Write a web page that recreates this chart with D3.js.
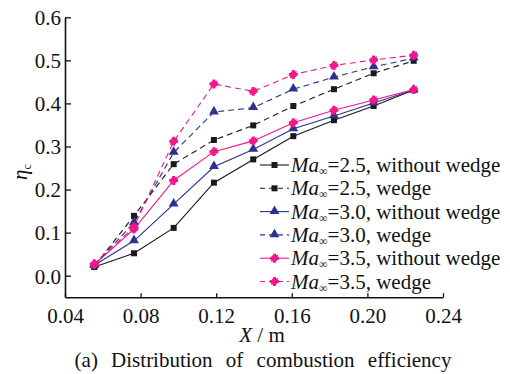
<!DOCTYPE html>
<html>
<head>
<meta charset="utf-8">
<script src="https://cdn.jsdelivr.net/npm/d3@7"></script>
<style>
html,body{margin:0;padding:0;background:#fff;}
</style>
</head>
<body>
<svg id="chart" width="510" height="374"></svg>
<script>
const xValues = [0.0555, 0.0765, 0.0975, 0.1188, 0.1396, 0.1608, 0.1823, 0.2033, 0.2245];
const ma25NoWedge = [0.020, 0.052, 0.111, 0.216, 0.270, 0.324, 0.361, 0.394, 0.431];
const ma25Wedge   = [0.022, 0.139, 0.259, 0.315, 0.349, 0.394, 0.433, 0.470, 0.499];
const ma30NoWedge = [0.024, 0.081, 0.166, 0.253, 0.293, 0.341, 0.371, 0.401, 0.431];
const ma30Wedge   = [0.025, 0.123, 0.286, 0.380, 0.390, 0.433, 0.461, 0.485, 0.505];
const ma35NoWedge = [0.026, 0.108, 0.221, 0.288, 0.313, 0.355, 0.384, 0.408, 0.432];
const ma35Wedge   = [0.027, 0.113, 0.312, 0.445, 0.428, 0.467, 0.488, 0.501, 0.512];
const machLabels  = ["2.5", "2.5", "3.0", "3.0", "3.5", "3.5"];
const caseLabels  = ["without wedge", "wedge", "without wedge", "wedge", "without wedge", "wedge"];
const xTicks = [0.04, 0.08, 0.12, 0.16, 0.20, 0.24];
const yTicks = [0.0, 0.1, 0.2, 0.3, 0.4, 0.5, 0.6];

const FONT = '"Liberation Serif"';
const FS = "21px";
const colors = {k:"#1a1a1a", b:"#2b3190", m:"#f0188c"};
const series = [
  {vals: ma25NoWedge, color: colors.k, dashed:false, marker:"square"},
  {vals: ma25Wedge,   color: colors.k, dashed:true,  marker:"square"},
  {vals: ma30NoWedge, color: colors.b, dashed:false, marker:"triangle"},
  {vals: ma30Wedge,   color: colors.b, dashed:true,  marker:"triangle"},
  {vals: ma35NoWedge, color: colors.m, dashed:false, marker:"star"},
  {vals: ma35Wedge,   color: colors.m, dashed:true,  marker:"star"}
];

const svg = d3.select("#chart");
const x = d3.scaleLinear().domain([0.04, 0.24]).range([65, 443]);
const y = d3.scaleLinear().domain([-0.05, 0.6]).range([297.2, 17.3]);

const xAxis = d3.axisBottom(x).tickValues(xTicks).tickFormat(d3.format(".2f")).tickSizeInner(-4).tickSizeOuter(0).tickPadding(10);
const yAxis = d3.axisLeft(y).tickValues(yTicks).tickFormat(d3.format(".1f")).tickSizeInner(-6).tickSizeOuter(0).tickPadding(4);

const gx = svg.append("g").attr("transform", `translate(0,${y(-0.05)})`).call(xAxis);
const gy = svg.append("g").attr("transform", `translate(${x(0.04)},0)`).call(yAxis);
[gx, gy].forEach(g => {
  g.select(".domain").attr("stroke", "#111").attr("stroke-width", 1.6);
  g.selectAll(".tick line").attr("stroke", "#111").attr("stroke-width", 1.3);
  g.selectAll(".tick text").attr("fill", "#111").style("font-family", FONT).style("font-size", FS);
});
gy.selectAll(".tick text").attr("dy", "0.35em");
gx.selectAll(".tick text").attr("dy", "0.75em");

function drawMarker(g, type, color, cx, cy) {
  if (type === "star") {
    g.append("path").attr("d", d3.symbol(d3.symbolCross, 44)()).attr("transform", `translate(${cx},${cy})`).attr("fill", color);
    g.append("path").attr("d", d3.symbol(d3.symbolDiamond, 30)()).attr("transform", `translate(${cx},${cy}) rotate(45)`).attr("fill", color);
    g.append("circle").attr("cx", cx).attr("cy", cy).attr("r", 3.2).attr("fill", color);
  } else if (type === "square") {
    g.append("path").attr("d", d3.symbol(d3.symbolSquare, 36)()).attr("transform", `translate(${cx},${cy})`).attr("fill", color);
  } else {
    g.append("path").attr("d", d3.symbol(d3.symbolTriangle, 42)()).attr("transform", `translate(${cx},${cy - 0.5})`).attr("fill", color);
  }
}

const line = d3.line().x(d => x(d[0])).y(d => y(d[1]));
const plot = svg.append("g");
series.forEach(s => {
  const pts = xValues.map((xv, i) => [xv, s.vals[i]]);
  plot.append("path").attr("d", line(pts)).attr("fill", "none").attr("stroke", s.color)
    .attr("stroke-width", 1.1).attr("stroke-dasharray", s.dashed ? "6,4" : null);
});
series.forEach(s => {
  const g = plot.append("g");
  xValues.forEach((xv, i) => drawMarker(g, s.marker, s.color, x(xv), y(s.vals[i])));
});

const leg = svg.append("g");
series.forEach((s, i) => {
  const ly = 165 + i * 23.3;
  leg.append("line").attr("x1", 260).attr("x2", 289).attr("y1", ly).attr("y2", ly)
    .attr("stroke", s.color).attr("stroke-width", 1.1).attr("stroke-dasharray", s.dashed ? "5,4" : null);
  drawMarker(leg, s.marker, s.color, 274.5, ly);
  const t = leg.append("text").attr("x", 291).attr("y", ly + 7).attr("fill", "#111")
    .style("font-family", FONT).style("font-size", FS);
  t.append("tspan").text("Ma").style("font-style", "italic");
  t.append("tspan").text("∞").style("font-size", "12px").attr("dy", 3);
  t.append("tspan").text("=" + machLabels[i] + ", " + caseLabels[i]).attr("dy", -3);
});

const xl = svg.append("text").attr("x", 262).attr("y", 342).attr("text-anchor", "middle").attr("fill", "#111")
  .style("font-family", FONT).style("font-size", FS);
xl.append("tspan").text("X").style("font-style", "italic");
xl.append("tspan").text(" / m");

const yl = svg.append("text").attr("transform", "translate(27,172) rotate(-90)").attr("text-anchor", "middle").attr("fill", "#111")
  .style("font-family", FONT).style("font-size", FS);
yl.append("tspan").text("η").style("font-style", "italic");
yl.append("tspan").text("c").style("font-size", "12px").attr("dy", 4);

svg.append("text").attr("x", 263).attr("y", 367).attr("text-anchor", "middle").attr("fill", "#111")
  .style("font-family", FONT).style("font-size", FS).style("word-spacing", "8px")
  .text("(a) Distribution of combustion efficiency");
</script>
</body>
</html>
